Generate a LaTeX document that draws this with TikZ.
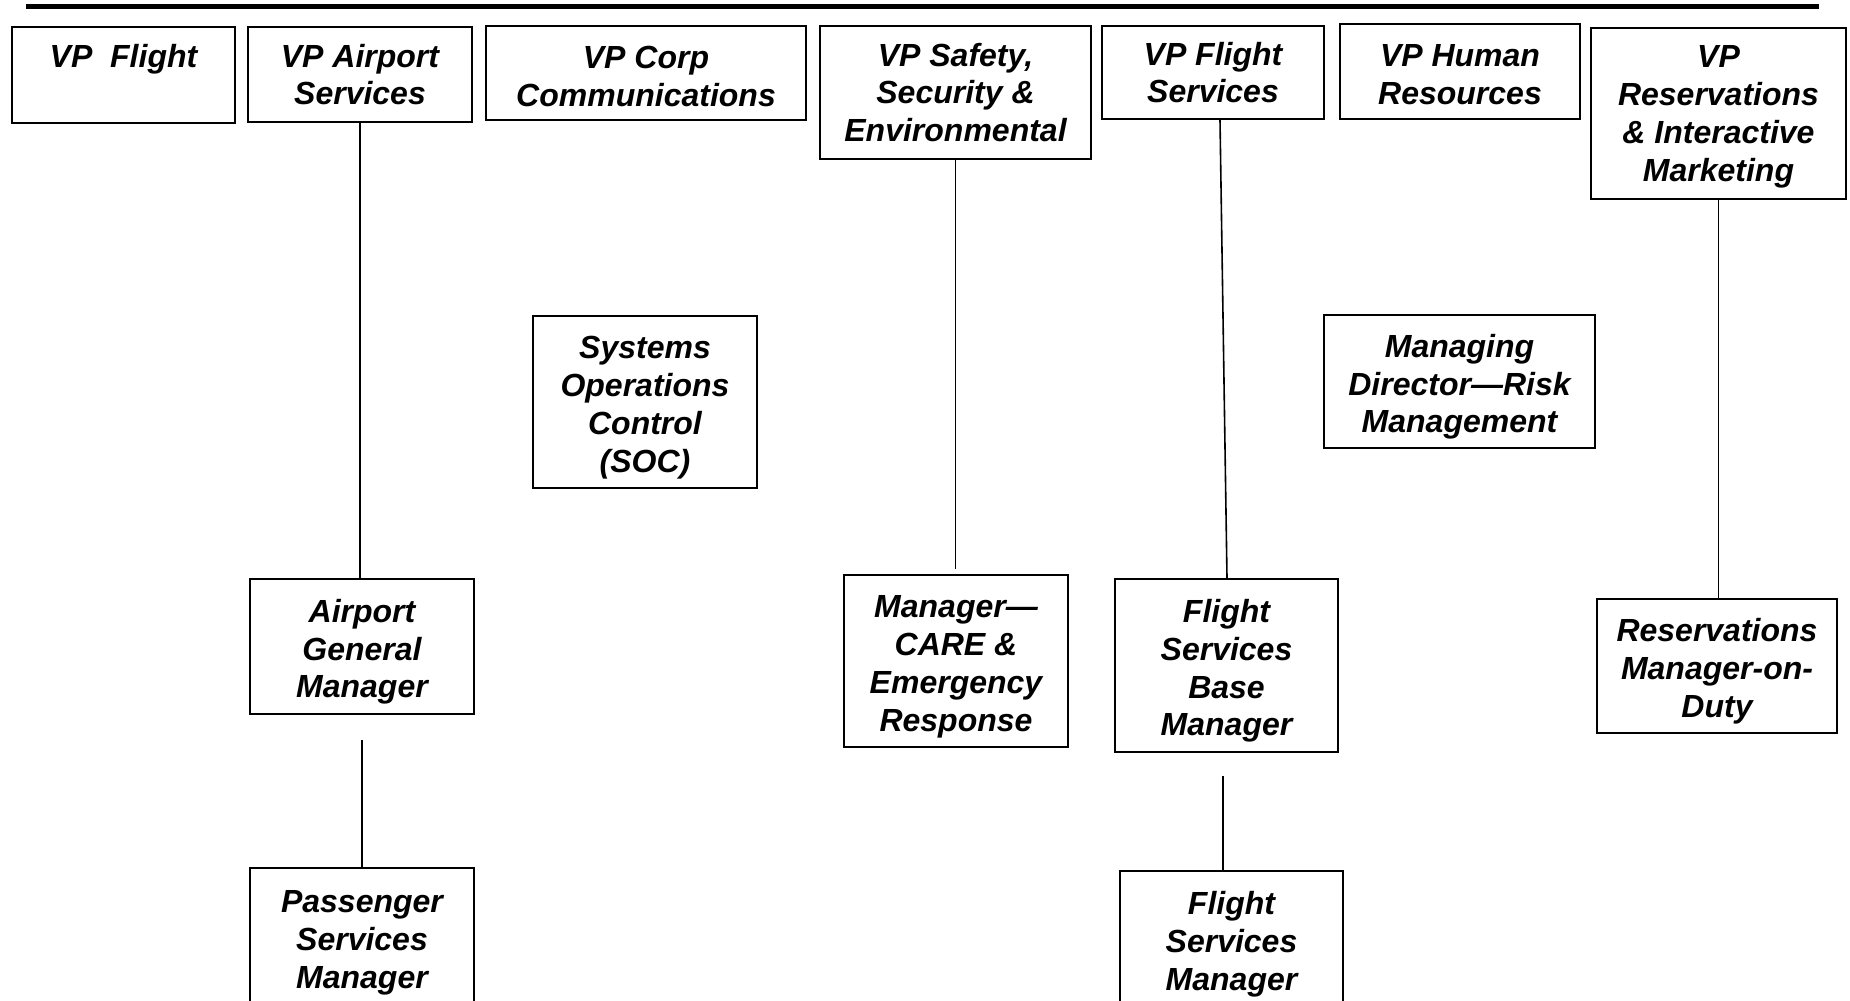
\documentclass[tikz,border=0pt]{standalone}
\usepackage{fontspec}
\setmainfont{Liberation Sans}
\newcommand{\toppad}{\rule{0pt}{34pt}}
\newcommand{\halfpad}{\rule{0pt}{29pt}}
\begin{document}
\begin{tikzpicture}[x=1pt,y=-1pt,
  box/.style={draw=black, line width=2.2pt, inner sep=0pt, align=center,
    font=\fontsize{32}{37.8}\selectfont\bfseries\itshape},
  link/.style={draw=black, line width=1.6pt}]
\useasboundingbox (0,0) rectangle (1850,1001);
\clip (0,0) rectangle (1850,1001);
\fill[white] (0,0) rectangle (1850,1001);
\coordinate (barL) at (26,6.5);
\coordinate (barR) at (1819,6.5);
\draw[line width=5pt] (barL) -- (barR);

\node[box, minimum width=223, minimum height=96] (vpf) at (123.5,75) {\toppad VP\ \ Flight\\\strut};
\node[box, minimum width=224, minimum height=95] (vpas) at (360,74.5) {VP Airport\\Services};
\node[box, minimum width=320, minimum height=94] (vpcc) at (646,73) {\halfpad VP Corp\\Communications};
\node[box, minimum width=271, minimum height=133] (vpsse) at (955.5,92.5) {VP Safety,\\Security \&\\Environmental};
\node[box, minimum width=222, minimum height=93] (vpfs) at (1213,72.5) {VP Flight\\Services};
\node[box, minimum width=240, minimum height=95] (vphr) at (1460,71.5) {\halfpad VP Human\\Resources};
\node[box, minimum width=255, minimum height=171] (vpres) at (1718.5,113.5) {\halfpad VP\\Reservations\\\& Interactive\\Marketing};

\node[box, minimum width=224, minimum height=172] (soc) at (645,402) {\toppad Systems\\Operations\\Control\\(SOC)};
\node[box, minimum width=271, minimum height=133] (mdrm) at (1459.5,381.5) {\toppad Managing\\Director—Risk\\Management};

\node[box, minimum width=224, minimum height=135] (agm) at (362,646.5) {\toppad Airport\\General\\Manager};
\node[box, minimum width=224, minimum height=172] (care) at (956,661) {\toppad Manager—\\CARE \&\\Emergency\\Response};
\node[box, minimum width=223, minimum height=173] (fsbm) at (1226.5,665.5) {\toppad Flight\\Services\\Base\\Manager};
\node[box, minimum width=240, minimum height=134] (rmod) at (1717,666) {\toppad Reservations\\Manager-on-\\Duty};

\node[box, minimum width=224, minimum height=138] (psm) at (362,937) {\toppad Passenger\\Services\\Manager};
\node[box, minimum width=223, minimum height=136] (fsm) at (1231.5,939) {\toppad Flight\\Services\\Manager};

\draw[link] (vpas.south) -- (vpas.south |- agm.north);
\draw[link] (psm.north) -- ++(0,-127);
\coordinate (careTop) at ([yshift=5pt]care.north);
\draw[link] (vpsse.south) -- (vpsse.south |- careTop);
\draw[link] ([xshift=7pt]vpfs.south) -- ([xshift=0.5pt]fsbm.north);
\draw[link] ([xshift=-8.5pt]fsm.north) -- ++(0,-94);
\draw[link] (vpres.south) -- (vpres.south |- rmod.north);
\end{tikzpicture}
\end{document}
